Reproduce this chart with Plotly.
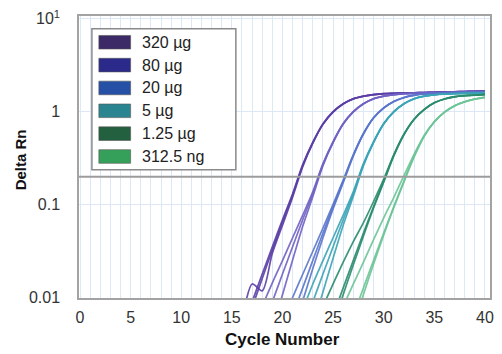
import plotly.graph_objects as go

CYCLES = list(range(15, 41))
THRESHOLD = 0.2

GROUP_LABELS = ["320 µg", "80 µg", "20 µg", "5 µg", "1.25 µg", "312.5 ng"]
SWATCH_COLORS = ["#3b2a66", "#2b2a8a", "#2550a5", "#2a8590", "#22603f", "#35a05a"]
LINE_COLORS = ["#5a3ea6", "#6f62c4", "#5a76cc", "#3aa4b6", "#2a8c6c", "#6cc596"]

# Delta Rn per cycle (cycles 15..40), three replicates per dilution
G1 = [
    [0.0023, 0.0046, 0.0090, 0.0179, 0.0352, 0.0688, 0.131, 0.270, 0.470, 0.740, 1.00, 1.22, 1.38, 1.47, 1.53, 1.565, 1.58, 1.59, 1.60, 1.61, 1.62, 1.63, 1.64, 1.65, 1.66, 1.67],
    [0.0030, 0.0060, 0.0140, 0.0118, 0.0300, 0.0600, 0.120, 0.256, 0.458, 0.730, 0.99, 1.21, 1.375, 1.465, 1.53, 1.56, 1.58, 1.59, 1.60, 1.61, 1.62, 1.63, 1.64, 1.65, 1.66, 1.68],
    [0.0018, 0.0037, 0.0078, 0.0160, 0.0325, 0.0650, 0.126, 0.263, 0.464, 0.735, 0.995, 1.215, 1.378, 1.468, 1.53, 1.565, 1.58, 1.59, 1.60, 1.61, 1.62, 1.63, 1.64, 1.65, 1.66, 1.665],
]
G2 = [
    [0.00057, 0.00115, 0.0023, 0.0046, 0.0090, 0.0179, 0.0352, 0.0688, 0.131, 0.270, 0.470, 0.740, 1.00, 1.22, 1.38, 1.47, 1.53, 1.565, 1.58, 1.59, 1.60, 1.61, 1.62, 1.63, 1.64, 1.65],
    [0.0010, 0.0020, 0.0040, 0.0080, 0.0144, 0.0250, 0.0440, 0.0770, 0.138, 0.276, 0.476, 0.745, 1.00, 1.22, 1.38, 1.47, 1.53, 1.565, 1.58, 1.59, 1.60, 1.61, 1.62, 1.63, 1.64, 1.66],
    [0.0003, 0.0006, 0.0011, 0.0022, 0.0045, 0.0107, 0.0253, 0.0585, 0.122, 0.262, 0.464, 0.735, 0.995, 1.215, 1.375, 1.468, 1.53, 1.56, 1.58, 1.59, 1.60, 1.61, 1.62, 1.63, 1.64, 1.65],
]
G3 = [
    [0.0001, 0.0002, 0.0004, 0.0008, 0.0016, 0.0032, 0.0064, 0.0127, 0.0251, 0.0494, 0.0953, 0.179, 0.340, 0.580, 0.86, 1.10, 1.29, 1.42, 1.505, 1.551, 1.575, 1.59, 1.60, 1.61, 1.62, 1.63],
    [0.0002, 0.0004, 0.0007, 0.0014, 0.0028, 0.0055, 0.0100, 0.0178, 0.0315, 0.0560, 0.101, 0.184, 0.345, 0.584, 0.86, 1.10, 1.29, 1.42, 1.505, 1.55, 1.575, 1.59, 1.60, 1.61, 1.62, 1.64],
    [0.00006, 0.00012, 0.00025, 0.0005, 0.0010, 0.0020, 0.0042, 0.0092, 0.0205, 0.0440, 0.0900, 0.172, 0.334, 0.575, 0.855, 1.095, 1.285, 1.415, 1.50, 1.55, 1.57, 1.585, 1.595, 1.605, 1.615, 1.625],
]
G4 = [
    [0.00004, 0.00007, 0.00014, 0.00029, 0.00057, 0.00115, 0.0023, 0.0046, 0.0090, 0.0179, 0.0352, 0.0688, 0.131, 0.270, 0.470, 0.740, 1.00, 1.22, 1.38, 1.47, 1.52, 1.55, 1.565, 1.575, 1.58, 1.59],
    [0.00007, 0.00013, 0.00026, 0.0005, 0.0010, 0.0020, 0.0040, 0.0074, 0.0140, 0.0250, 0.0440, 0.0770, 0.138, 0.276, 0.476, 0.745, 1.00, 1.22, 1.38, 1.47, 1.52, 1.55, 1.565, 1.575, 1.58, 1.60],
    [0.00002, 0.00004, 0.00008, 0.00016, 0.0003, 0.0006, 0.0012, 0.0024, 0.0050, 0.0115, 0.0265, 0.0600, 0.123, 0.262, 0.464, 0.735, 0.995, 1.215, 1.375, 1.465, 1.515, 1.545, 1.56, 1.57, 1.575, 1.585],
]
G5 = [
    [0.00001, 0.00002, 0.00004, 0.00007, 0.0001, 0.0002, 0.0004, 0.0008, 0.0016, 0.0032, 0.0064, 0.0127, 0.0251, 0.0494, 0.0953, 0.179, 0.340, 0.570, 0.83, 1.06, 1.25, 1.37, 1.45, 1.49, 1.51, 1.53],
    [0.00002, 0.00004, 0.00008, 0.00015, 0.0003, 0.0006, 0.0011, 0.0022, 0.0043, 0.0080, 0.0140, 0.0240, 0.0400, 0.0640, 0.108, 0.188, 0.346, 0.574, 0.83, 1.055, 1.245, 1.37, 1.445, 1.485, 1.51, 1.535],
    [0.00001, 0.00002, 0.00003, 0.00005, 0.00008, 0.00015, 0.0003, 0.0006, 0.0012, 0.0024, 0.0050, 0.0108, 0.0225, 0.0460, 0.0920, 0.174, 0.334, 0.565, 0.825, 1.055, 1.245, 1.37, 1.445, 1.485, 1.505, 1.525],
]
G6 = [
    [0.000003, 0.000005, 0.00001, 0.00002, 0.00004, 0.00008, 0.0001, 0.0002, 0.0004, 0.0008, 0.0016, 0.0032, 0.0064, 0.0127, 0.0251, 0.0494, 0.0953, 0.179, 0.330, 0.550, 0.78, 0.99, 1.16, 1.28, 1.37, 1.43],
    [0.000005, 0.00001, 0.00002, 0.00004, 0.00008, 0.00015, 0.0003, 0.0006, 0.0011, 0.0022, 0.0043, 0.0080, 0.0140, 0.0240, 0.0420, 0.0720, 0.120, 0.205, 0.348, 0.556, 0.78, 0.99, 1.16, 1.28, 1.37, 1.44],
    [0.000002, 0.000004, 0.000008, 0.000015, 0.00003, 0.00005, 0.00008, 0.00015, 0.0003, 0.0006, 0.0012, 0.0024, 0.0050, 0.0108, 0.0230, 0.0470, 0.0930, 0.176, 0.326, 0.545, 0.775, 0.985, 1.155, 1.275, 1.365, 1.42],
]
GROUPS = [G1, G2, G3, G4, G5, G6]

X_TICKS = [0, 5, 10, 15, 20, 25, 30, 35, 40]
Y_TICKS = [0.01, 0.1, 1, 10]
Y_TICKTEXT = ["0.01", "0.1", "1", "10<sup>1</sup>"]

FONT = "Liberation Sans, Arial, sans-serif"
W, H = 502, 354
ML, MR, MT, MB = 79, 9, 8, 56
PW, PH = W - ML - MR, H - MT - MB


def px_x(p):
    return (p - ML) / PW


def px_y(p):
    return (H - MB - p) / PH


fig = go.Figure()

for gi, reps in enumerate(GROUPS):
    for rep in reps:
        fig.add_trace(go.Scatter(
            x=CYCLES, y=rep, mode="lines",
            line=dict(color=LINE_COLORS[gi], width=1.7, shape="spline", smoothing=0.8),
            opacity=0.9, showlegend=False, hoverinfo="skip"))

# threshold line
fig.add_trace(go.Scatter(x=[-0.1, 40.5], y=[THRESHOLD, THRESHOLD], mode="lines",
                         line=dict(color="#9c9c9c", width=2), showlegend=False,
                         hoverinfo="skip"))

# legend box (drawn manually)
fig.add_shape(type="rect", xref="paper", yref="paper",
              x0=px_x(92), x1=px_x(237), y0=px_y(166), y1=px_y(21),
              fillcolor="white", line=dict(color="#8a8a8a", width=1.5), layer="above")
row_centers = [35, 58.5, 82, 105.5, 129, 152.5]
for i, lab in enumerate(GROUP_LABELS):
    cy = row_centers[i]
    fig.add_shape(type="rect", xref="paper", yref="paper",
                  x0=px_x(99), x1=px_x(131), y0=px_y(cy + 7), y1=px_y(cy - 7),
                  fillcolor=SWATCH_COLORS[i], line=dict(color="#555", width=0.6), layer="above")
    fig.add_annotation(xref="paper", yref="paper", x=px_x(140), y=px_y(cy),
                       text=lab, showarrow=False, xanchor="left", yanchor="middle",
                       font=dict(family=FONT, size=16, color="#222"))

# axis titles
fig.add_annotation(xref="paper", yref="paper", x=px_x(284), y=px_y(341),
                   text="<b>Cycle Number</b>", showarrow=False,
                   xanchor="center", yanchor="middle",
                   font=dict(family=FONT, size=17, color="#111"))
fig.add_annotation(xref="paper", yref="paper", x=px_x(20), y=px_y(156),
                   text="<b>Delta Rn</b>", showarrow=False, textangle=-90,
                   xanchor="center", yanchor="middle",
                   font=dict(family=FONT, size=15, color="#111"))

grid_c = "#dde8f6"
fig.update_layout(
    width=W, height=H, autosize=False,
    margin=dict(l=ML, r=MR, t=MT, b=MB, pad=0),
    paper_bgcolor="white", plot_bgcolor="white",
    font=dict(family=FONT, size=16, color="#333"),
    xaxis=dict(range=[-0.1, 40.5], tickvals=X_TICKS, showgrid=True, gridcolor=grid_c,
               gridwidth=1, minor=dict(dtick=1, showgrid=True, gridcolor=grid_c, gridwidth=1),
               showline=True, mirror=True, linecolor="#a3a3a3", linewidth=1.5,
               ticks="", ticklabelstandoff=4, zeroline=False,
               tickfont=dict(family=FONT, size=16, color="#333")),
    yaxis=dict(type="log", range=[-2.005, 1.03], tickvals=Y_TICKS, ticktext=Y_TICKTEXT,
               showgrid=True, gridcolor=grid_c, showline=True, mirror=True,
               linecolor="#a3a3a3", linewidth=1.5, ticks="", ticklabelstandoff=14,
               zeroline=False, tickfont=dict(family=FONT, size=16, color="#333")),
)

fig.write_html("out.html")
